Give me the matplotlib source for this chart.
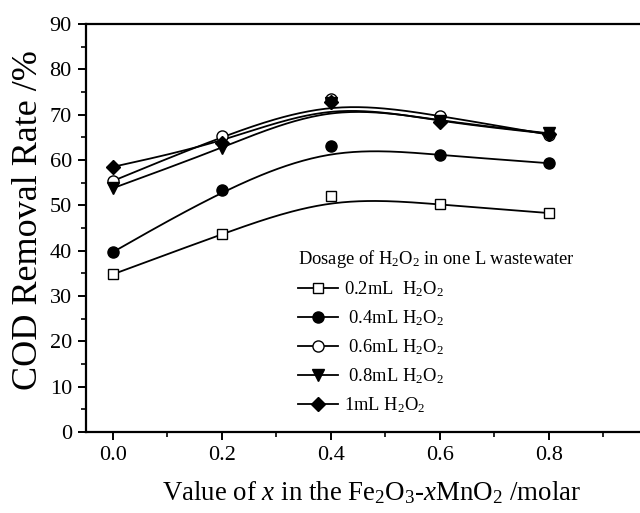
import numpy as np
import matplotlib
matplotlib.use("Agg")
import matplotlib.pyplot as plt
from matplotlib.lines import Line2D
from matplotlib.ticker import MultipleLocator

plt.rcParams["font.family"] = ["Liberation Serif", "DejaVu Serif"]
plt.rcParams["mathtext.fontset"] = "custom"
plt.rcParams["mathtext.rm"] = "Liberation Serif"
plt.rcParams["mathtext.it"] = "Liberation Serif:italic"
plt.rcParams["mathtext.bf"] = "Liberation Serif:bold"

# Molar fraction of MnO2 in the catalyst
x_molar = [0.0, 0.2, 0.4, 0.6, 0.8]

# COD removal rate (%) for each H2O2 dosage per litre of wastewater
cod_02 = [34.8, 43.7, 52.1, 50.2, 48.3]
cod_04 = [39.7, 53.4, 63.2, 61.1, 59.3]
cod_06 = [55.4, 65.3, 73.4, 69.8, 65.6]
cod_08 = [53.8, 62.6, 72.6, 68.6, 65.9]
cod_10 = [58.5, 63.8, 72.9, 68.4, 65.8]

series_labels = [
    r"0.2mL  H$_2$O$_2$",
    r" 0.4mL H$_2$O$_2$",
    r" 0.6mL H$_2$O$_2$",
    r" 0.8mL H$_2$O$_2$",
    r"1mL H$_2$O$_2$",
]


def bspline_curve(xs, ys, samples=40):
    """Uniform cubic B-spline with reflected end points (passes through both ends)."""
    xs = np.asarray(xs, float)
    ys = np.asarray(ys, float)
    px = np.concatenate([[2 * xs[0] - xs[1]], xs, [2 * xs[-1] - xs[-2]]])
    py = np.concatenate([[2 * ys[0] - ys[1]], ys, [2 * ys[-1] - ys[-2]]])
    out_x, out_y = [], []
    t = np.linspace(0, 1, samples)
    b0 = (1 - t) ** 3 / 6
    b1 = (3 * t ** 3 - 6 * t ** 2 + 4) / 6
    b2 = (-3 * t ** 3 + 3 * t ** 2 + 3 * t + 1) / 6
    b3 = t ** 3 / 6
    for i in range(len(px) - 3):
        out_x.append(b0 * px[i] + b1 * px[i + 1] + b2 * px[i + 2] + b3 * px[i + 3])
        out_y.append(b0 * py[i] + b1 * py[i + 1] + b2 * py[i + 2] + b3 * py[i + 3])
    return np.concatenate(out_x), np.concatenate(out_y)


fig = plt.figure(figsize=(6.4, 5.13), dpi=100)
ax = fig.add_axes([0.134, 0.158, 0.894, 0.795])

styles = [
    dict(marker="s", mfc="white", ms=7.5),
    dict(marker="o", mfc="black", ms=8),
    dict(marker="o", mfc="white", ms=8),
    dict(marker="v", mfc="black", ms=8.5),
    dict(marker="D", mfc="black", ms=7),
]

handles = []
for ys, st, lab in zip([cod_02, cod_04, cod_06, cod_08, cod_10], styles, series_labels):
    cx, cy = bspline_curve(x_molar, ys)
    ax.plot(cx, cy, color="black", lw=1.3, zorder=2)
    ax.plot(x_molar, ys, linestyle="none", marker=st["marker"], ms=st["ms"],
            mfc=st["mfc"], mec="black", mew=1.0, zorder=3)
    handles.append(Line2D([], [], color="black", lw=1.3, marker=st["marker"],
                          ms=st["ms"], mfc=st["mfc"], mec="black", mew=1.0, label=lab))

ax.set_xlim(-0.05, 1.0)
ax.set_ylim(0, 90)
ax.xaxis.set_major_locator(MultipleLocator(0.2))
ax.xaxis.set_minor_locator(MultipleLocator(0.1))
ax.yaxis.set_major_locator(MultipleLocator(10))
ax.yaxis.set_minor_locator(MultipleLocator(5))
ax.set_xticks([0.0, 0.2, 0.4, 0.6, 0.8])
ax.set_xticklabels(["0.0", "0.2", "0.4", "0.6", "0.8"])

for sp in ax.spines.values():
    sp.set_linewidth(1.6)

ax.tick_params(which="major", direction="out", length=6, width=1.4, labelsize=16, pad=4)
ax.tick_params(which="minor", direction="out", length=3.5, width=1.2)
ax.tick_params(top=False, right=False, which="both")

ax.set_ylabel("COD Removal Rate /%", fontsize=26)
ax.yaxis.set_label_coords(-0.071, 0.52)
ax.set_xlabel(r"Value of $x$ in the Fe$_2$O$_3$-$x$MnO$_2$ /molar", fontsize=19.4, labelpad=10)

leg = ax.legend(handles=handles, title=r"Dosage of H$_2$O$_2$ in one L wastewater",
                loc="upper left", bbox_to_anchor=(0.348, 0.482), frameon=False,
                fontsize=13.3, title_fontsize=13.3, handlelength=2.2, handletextpad=0.3,
                labelspacing=0.5, borderpad=0.2)
leg._legend_box.align = "left"

fig.savefig("out.png", dpi=100)
